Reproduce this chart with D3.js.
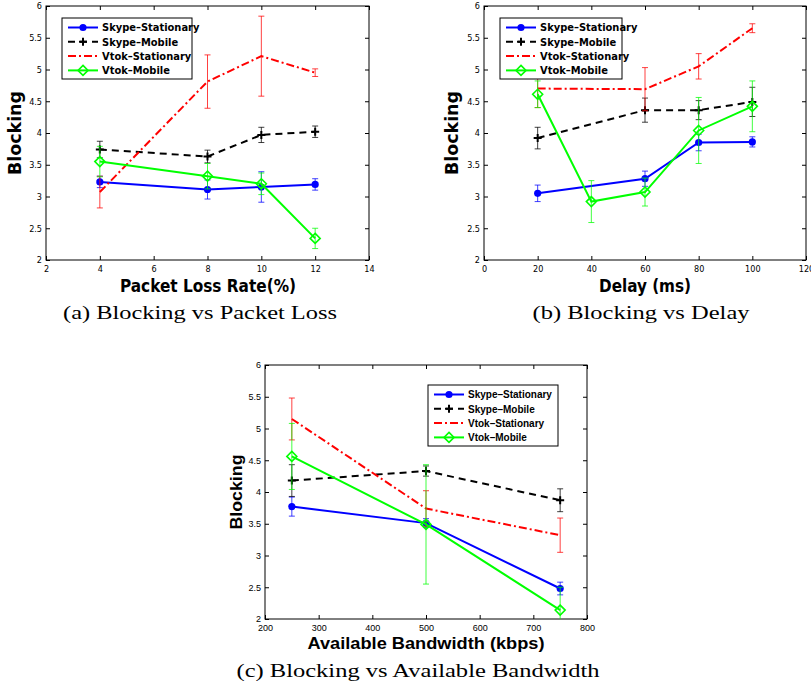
<!DOCTYPE html>
<html>
<head>
<meta charset="utf-8">
<script src="https://cdn.jsdelivr.net/npm/d3@7"></script>
<style>
  body { margin: 0; background: #fff; }
  svg { display: block; }
</style>
</head>
<body>
<div id="chart"></div>
<script>
// series names and colours shared by all three panels
var seriesNames = ["Skype–Stationary", "Skype–Mobile", "Vtok–Stationary", "Vtok–Mobile"];
var yTicks = [2, 2.5, 3, 3.5, 4, 4.5, 5, 5.5, 6];

// (a) Blocking vs Packet Loss
var lossTicks = [2, 4, 6, 8, 10, 12, 14];
var lossX = [4, 8, 10, 12];
var lossSkypeStat = [3.23, 3.11, 3.15, 3.19];
var lossSkypeStatErr = [0.09, 0.15, 0.24, 0.09];
var lossSkypeMob = [3.74, 3.63, 3.97, 4.02];
var lossSkypeMobErr = [0.13, 0.10, 0.12, 0.09];
var lossVtokStat = [3.07, 4.81, 5.21, 4.95];
var lossVtokStatErr = [0.25, 0.42, 0.63, 0.06];
var lossVtokMob = [3.55, 3.32, 3.20, 2.34];
var lossVtokMobErr = [0.24, 0.20, 0.17, 0.16];

// (b) Blocking vs Delay
var delayTicks = [0, 20, 40, 60, 80, 100, 120];
var delayX = [20, 60, 80, 100];
var delayMobX = [20, 40, 60, 80, 100];
var delaySkypeStat = [3.05, 3.28, 3.85, 3.86];
var delaySkypeStatErr = [0.13, 0.12, 0.13, 0.08];
var delaySkypeMob = [3.92, 4.36, 4.36, 4.49];
var delaySkypeMobErr = [0.17, 0.19, 0.15, 0.23];
var delayVtokStat = [4.70, 4.69, 5.05, 5.65];
var delayVtokStatErr = [0.30, 0.34, 0.20, 0.07];
var delayVtokMob = [4.61, 2.92, 3.07, 4.04, 4.42];
var delayVtokMobErr = [0.21, 0.33, 0.22, 0.52, 0.40];

// (c) Blocking vs Available Bandwidth
var bwTicks = [200, 300, 400, 500, 600, 700, 800];
var bwX = [250, 500, 750];
var bwSkypeStat = [3.77, 3.51, 2.48];
var bwSkypeStatErr = [0.15, 0.07, 0.10];
var bwSkypeMob = [4.18, 4.33, 3.87];
var bwSkypeMobErr = [0.25, 0.08, 0.18];
var bwVtokStat = [5.15, 3.74, 3.32];
var bwVtokStatErr = [0.33, 0.28, 0.27];
var bwVtokMob = [4.56, 3.49, 2.14];
var bwVtokMobErr = [0.52, 0.94, 0.36];

var styles = [
  { color: "#0000ff", dash: null, marker: "circle" },
  { color: "#000000", dash: "7,5", marker: "plus" },
  { color: "#ff0000", dash: "8,3,2,3", marker: null },
  { color: "#00ff00", dash: null, marker: "diamond" }
];

function pts(xs, ys, es) {
  return xs.map(function (x, i) { return { x: x, y: ys[i], e: es[i] }; });
}

var narrow = "'Liberation Sans Narrow', 'DejaVu Sans Condensed', Arial, sans-serif";
var wide = "'Liberation Sans', Arial, sans-serif";
var serif = "'Liberation Serif', 'DejaVu Serif', serif";

var panels = [
  {
    id: "a", left: 46, right: 369, top: 6, bottom: 260,
    xDomain: [2, 14], xTicks: lossTicks, font: narrow, tickSize: 9,
    legend: { x: 62, y: 18, w: 130 },
    xlabel: "Packet Loss Rate(%)", xlabelX: 208, xlabelY: 292, xlabelLen: 176, labelSize: 18,
    ylabelX: 21, ylabelLen: 84,
    caption: "(a) Blocking vs Packet Loss", capX: 200, capY: 319, capLen: 274,
    series: [
      pts(lossX, lossSkypeStat, lossSkypeStatErr),
      pts(lossX, lossSkypeMob, lossSkypeMobErr),
      pts(lossX, lossVtokStat, lossVtokStatErr),
      pts(lossX, lossVtokMob, lossVtokMobErr)
    ]
  },
  {
    id: "b", left: 484, right: 806, top: 6, bottom: 260,
    xDomain: [0, 120], xTicks: delayTicks, font: narrow, tickSize: 9,
    legend: { x: 500, y: 18, w: 122 },
    xlabel: "Delay (ms)", xlabelX: 645, xlabelY: 292, xlabelLen: 92, labelSize: 18,
    ylabelX: 458, ylabelLen: 84,
    caption: "(b) Blocking vs Delay", capX: 641, capY: 319, capLen: 217,
    series: [
      pts(delayX, delaySkypeStat, delaySkypeStatErr),
      pts(delayX, delaySkypeMob, delaySkypeMobErr),
      pts(delayX, delayVtokStat, delayVtokStatErr),
      pts(delayMobX, delayVtokMob, delayVtokMobErr)
    ]
  },
  {
    id: "c", left: 265, right: 587, top: 365, bottom: 619,
    xDomain: [200, 800], xTicks: bwTicks, font: wide, tickSize: 9,
    legend: { x: 428, y: 385, w: 130 },
    xlabel: "Available Bandwidth (kbps)", xlabelX: 426, xlabelY: 649, xlabelLen: 237, labelSize: 17,
    ylabelX: 242, ylabelLen: 75,
    caption: "(c) Blocking vs Available Bandwidth", capX: 418, capY: 677, capLen: 363,
    series: [
      pts(bwX, bwSkypeStat, bwSkypeStatErr),
      pts(bwX, bwSkypeMob, bwSkypeMobErr),
      pts(bwX, bwVtokStat, bwVtokStatErr),
      pts(bwX, bwVtokMob, bwVtokMobErr)
    ]
  }
];

var svg = d3.select("#chart")
  .append("svg")
  .attr("width", 811)
  .attr("height", 689);

function drawMarker(g, kind, cx, cy, color) {
  if (kind === "circle") {
    g.append("circle").attr("cx", cx).attr("cy", cy).attr("r", 3.6).attr("fill", color);
  } else if (kind === "plus") {
    g.append("path")
      .attr("d", "M" + (cx - 4) + "," + cy + "H" + (cx + 4) + "M" + cx + "," + (cy - 4) + "V" + (cy + 4))
      .attr("stroke", color).attr("stroke-width", 2).attr("fill", "none");
  } else if (kind === "diamond") {
    g.append("path")
      .attr("d", "M" + cx + "," + (cy - 5) + "L" + (cx + 5) + "," + cy + "L" + cx + "," + (cy + 5) + "L" + (cx - 5) + "," + cy + "Z")
      .attr("stroke", color).attr("stroke-width", 1.6).attr("fill", "none");
  }
}

panels.forEach(function (p) {
  var x = d3.scaleLinear().domain(p.xDomain).range([p.left, p.right]);
  var y = d3.scaleLinear().domain([2, 6]).range([p.bottom, p.top]);
  var g = svg.append("g").attr("class", "panel-" + p.id);

  var fmt = function (d) { return String(d); };

  // axes with inward ticks, MATLAB box style
  g.append("g").attr("transform", "translate(0," + p.bottom + ")")
    .call(d3.axisBottom(x).tickValues(p.xTicks).tickFormat(fmt).tickSizeInner(-4).tickSizeOuter(0).tickPadding(6));
  g.append("g").attr("transform", "translate(" + p.left + ",0)")
    .call(d3.axisLeft(y).tickValues(yTicks).tickFormat(fmt).tickSizeInner(-4).tickSizeOuter(0).tickPadding(4));
  g.append("g").attr("transform", "translate(0," + p.top + ")")
    .call(d3.axisTop(x).tickValues(p.xTicks).tickFormat("").tickSizeInner(-4).tickSizeOuter(0));
  g.append("g").attr("transform", "translate(" + p.right + ",0)")
    .call(d3.axisRight(y).tickValues(yTicks).tickFormat("").tickSizeInner(-4).tickSizeOuter(0));

  g.selectAll(".domain").remove();
  g.selectAll(".tick line").attr("stroke", "#000");
  g.selectAll(".tick text")
    .attr("font-family", p.font)
    .attr("font-size", p.tickSize)
    .attr("fill", "#000");

  g.append("rect")
    .attr("x", p.left).attr("y", p.top)
    .attr("width", p.right - p.left).attr("height", p.bottom - p.top)
    .attr("fill", "none").attr("stroke", "#000").attr("stroke-width", 1);

  // clip data to plot area
  var clipId = "clip-" + p.id;
  g.append("clipPath").attr("id", clipId)
    .append("rect")
    .attr("x", p.left).attr("y", p.top)
    .attr("width", p.right - p.left).attr("height", p.bottom - p.top);

  var plot = g.append("g").attr("clip-path", "url(#" + clipId + ")");

  var line = d3.line().x(function (d) { return x(d.x); }).y(function (d) { return y(d.y); });

  p.series.forEach(function (s, i) {
    var st = styles[i];
    var sg = plot.append("g");
    // error bars
    s.forEach(function (d) {
      var cx = x(d.x), y1 = y(d.y + d.e), y2 = y(d.y - d.e);
      sg.append("path")
        .attr("d", "M" + cx + "," + y1 + "V" + y2 +
          "M" + (cx - 3) + "," + y1 + "H" + (cx + 3) +
          "M" + (cx - 3) + "," + y2 + "H" + (cx + 3))
        .attr("stroke", st.color).attr("stroke-width", 1).attr("stroke-opacity", 0.75)
        .attr("fill", "none");
    });
    sg.append("path")
      .datum(s)
      .attr("d", line)
      .attr("fill", "none")
      .attr("stroke", st.color)
      .attr("stroke-width", 2)
      .attr("stroke-dasharray", st.dash);
    s.forEach(function (d) {
      drawMarker(sg, st.marker, x(d.x), y(d.y), st.color);
    });
  });

  // legend
  var lg = g.append("g");
  lg.append("rect")
    .attr("x", p.legend.x).attr("y", p.legend.y)
    .attr("width", p.legend.w).attr("height", 61)
    .attr("fill", "#fff").attr("stroke", "#000").attr("stroke-width", 1);
  seriesNames.forEach(function (name, i) {
    var st = styles[i];
    var ly = p.legend.y + 9.5 + i * 14.3;
    var lx0 = p.legend.x + 6, lx1 = p.legend.x + 36;
    lg.append("line")
      .attr("x1", lx0).attr("x2", lx1).attr("y1", ly).attr("y2", ly)
      .attr("stroke", st.color).attr("stroke-width", 2)
      .attr("stroke-dasharray", st.dash);
    drawMarker(lg, st.marker, (lx0 + lx1) / 2, ly, st.color);
    lg.append("text")
      .attr("x", p.legend.x + 40).attr("y", ly + 3.8)
      .attr("font-family", p.font)
      .attr("font-weight", "bold")
      .attr("font-size", p.id === "c" ? 10 : 11)
      .text(name);
  });

  // axis labels
  g.append("text")
    .attr("x", p.xlabelX).attr("y", p.xlabelY)
    .attr("text-anchor", "middle")
    .attr("font-family", p.font).attr("font-weight", "bold")
    .attr("font-size", p.labelSize)
    .attr("textLength", p.xlabelLen).attr("lengthAdjust", "spacingAndGlyphs")
    .text(p.xlabel);

  var cy = (p.top + p.bottom) / 2;
  g.append("text")
    .attr("transform", "translate(" + p.ylabelX + "," + cy + ") rotate(-90)")
    .attr("text-anchor", "middle")
    .attr("font-family", p.font).attr("font-weight", "bold")
    .attr("font-size", p.labelSize)
    .attr("textLength", p.ylabelLen).attr("lengthAdjust", "spacingAndGlyphs")
    .text("Blocking");

  // caption
  g.append("text")
    .attr("x", p.capX).attr("y", p.capY)
    .attr("text-anchor", "middle")
    .attr("font-family", serif)
    .attr("font-size", 19)
    .attr("textLength", p.capLen).attr("lengthAdjust", "spacingAndGlyphs")
    .text(p.caption);
});
</script>
</body>
</html>
